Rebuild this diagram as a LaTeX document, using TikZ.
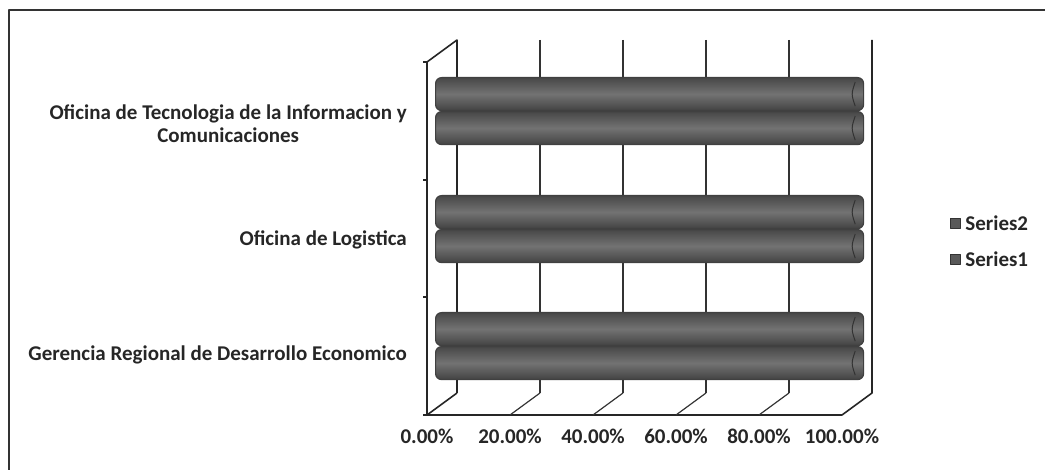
\documentclass[tikz,border=0pt]{standalone}
\usepackage{fontspec}
\setmainfont{Carlito}
\usetikzlibrary{positioning}

\begin{document}
\begin{tikzpicture}[
      x=1pt, y=-1pt, line join=round,
      frame/.style={draw=black!80, line width=1.2pt},
      wall/.style={draw=black!85, line width=1.6pt},
      grid/.style={draw=black!80, line width=1.2pt},
      bar/.style={draw=black!75, line width=1.2pt, rounded corners=6pt,
                  top color=black!72, bottom color=black!74, middle color=black!55,
                  minimum width=428pt, minimum height=33pt, anchor=north west, inner sep=0pt},
      barend/.style={draw=black!80, line width=1pt},
      cat/.style={font=\fontsize{21}{23}\selectfont\bfseries, text=black!85, anchor=east, align=center, inner sep=0pt},
      pct/.style={font=\fontsize{21}{23}\selectfont\bfseries, text=black!85, inner sep=0pt},
      leg/.style={font=\fontsize{21}{23}\selectfont\bfseries, text=black!85, anchor=west, inner sep=0pt},
      legbox/.style={draw=black!80, fill=black!65, minimum size=10pt, inner sep=0pt}]

      \useasboundingbox (0,0) rectangle (1045,470);

      % Frame
      \draw[frame] (9,470) -- (9,10) -- (1045,10);

      % Walls
      \draw[wall] (427,62) -- (457,40) -- (457,393);
      \draw[wall] (427,62) -- (427,415) -- (842,415) -- (872,393) -- (872,40);
      \draw[wall] (427,415) -- (457,393);
      \foreach \y in {62,180,297,415}
        \draw[wall] (423,\y) -- (427,\y);

      % Grid
      \foreach \xa/\xb in {510/540, 593/623, 676/706, 759/789} {
        \draw[grid] (\xb,40) -- (\xb,393);
        \draw[grid] (\xa,415) -- (\xb,393);
      }

      % Bars
      \node[bar] (goti2) at (435,77) {};
      \node[bar] (goti1) at (435,111) {};
      \node[bar] (glog2) at (435,195) {};
      \node[bar] (glog1) at (435,229) {};
      \node[bar] (gdes2) at (435,312) {};
      \node[bar] (gdes1) at (435,346) {};
      \foreach \g in {goti2,goti1,glog2,glog1,gdes2,gdes1}
        \draw[barend] ([xshift=-9pt,yshift=-5pt]\g.north east) .. controls ([xshift=-13pt]\g.east) .. ([xshift=-9pt,yshift=5pt]\g.south east);

      % Labels
      \node[cat] (loti) at (407,124) {Oficina de Tecnologia de la Informacion y\\Comunicaciones};
      \node[cat] (llog) at (407,240) {Oficina de Logistica};
      \node[cat] (ldes) at (407,355) {Gerencia Regional de Desarrollo Economico};

      \node[pct] (p0) at (427,436) {0.00\%};
      \node[pct] (p20) at (510,436) {20.00\%};
      \node[pct] (p40) at (593,436) {40.00\%};
      \node[pct] (p60) at (676,436) {60.00\%};
      \node[pct] (p80) at (759,436) {80.00\%};
      \node[pct] (p100) at (842,436) {100.00\%};

      % Legend
      \node[legbox] (m2) at (955,223) {};
      \node[leg, right=5pt of m2] (s2) {Series2};
      \node[legbox] (m1) at (955,259) {};
      \node[leg, right=5pt of m1] (s1) {Series1};

\end{tikzpicture}
\end{document}
